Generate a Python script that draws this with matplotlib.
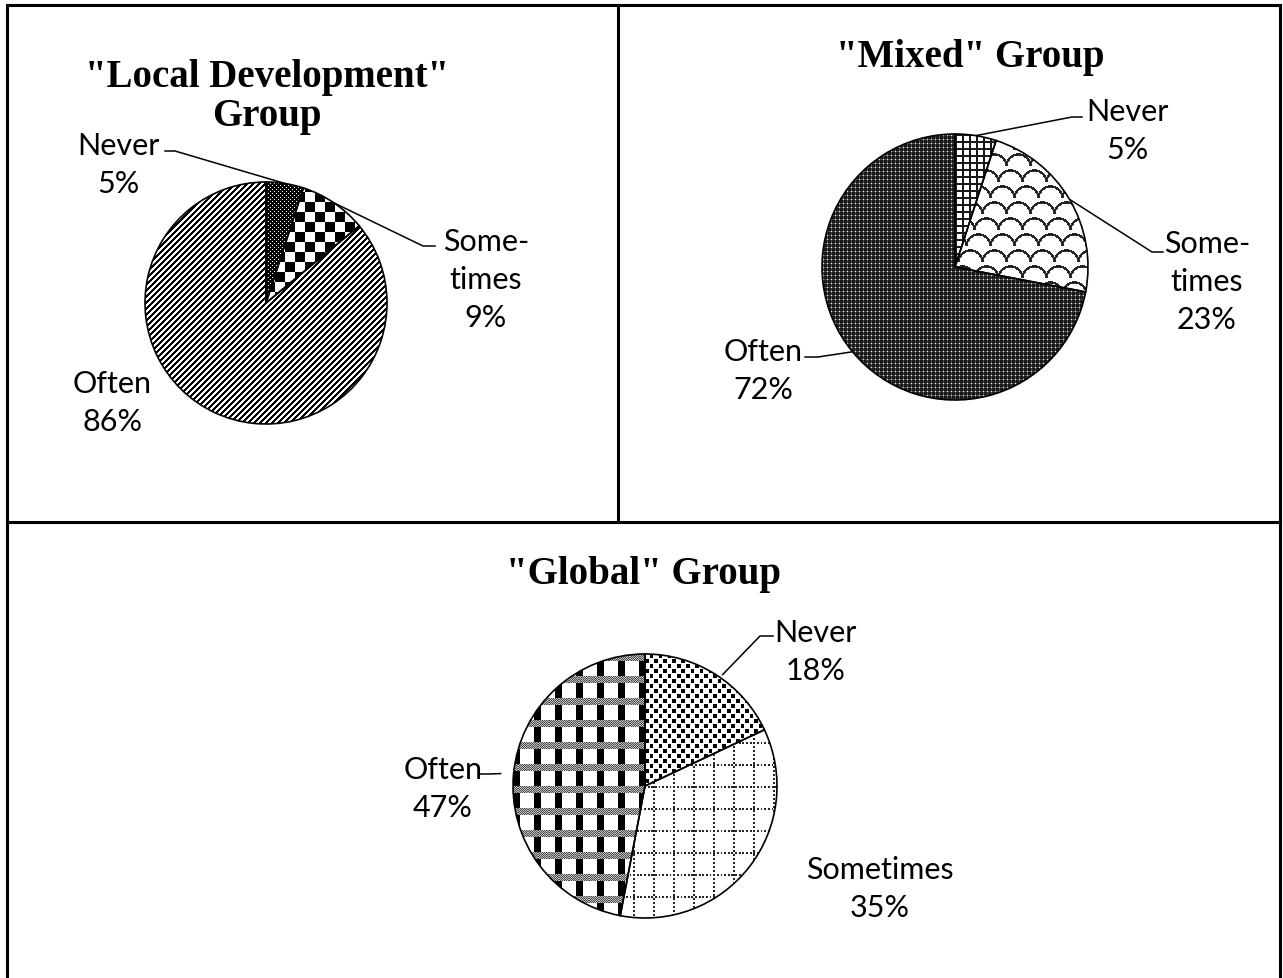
import numpy as np
import matplotlib
matplotlib.use('Agg')
import matplotlib.pyplot as plt

W, H = 1283, 979
DPI = 100

# data
local_names = ['Never', 'Some-\ntimes', 'Often']
local_vals = [5, 9, 86]
mixed_names = ['Never', 'Some-\ntimes', 'Often']
mixed_vals = [5, 23, 72]
global_names = ['Never', 'Sometimes', 'Often']
global_vals = [18, 35, 47]
titles = ['"Local Development"\nGroup', '"Mixed" Group', '"Global" Group']


# fill patterns (0 = black, 1 = white), one pixel per array cell
def pat_dots_black(I, J):
    a = np.zeros(I.shape)
    a[(I % 4 == 1) & (J % 4 == 1)] = 1
    a[(I % 4 == 3) & (J % 4 == 3)] = 1
    return a


def pat_checker(I, J):
    return ((I // 10 + J // 10) % 2).astype(float)


def pat_stripes(I, J):
    return ((I + J) % 6 >= 3).astype(float)


def pat_small_grid(I, J):
    a = np.ones(I.shape)
    a[(I % 7 < 2) | (J % 7 < 2)] = 0.1
    return a


def pat_shingle(I, J):
    h, w = 16, 24
    Jc = J + (I // h) * (w // 3)
    u = I % h
    v = Jc % w
    d = np.sqrt((u - h) ** 2 + (v - w / 2) ** 2)
    a = np.ones(I.shape)
    a[np.abs(d - w / 2) < 1.2] = 0.15
    return a


def pat_dark_dots(I, J):
    a = np.full(I.shape, 0.1)
    a[(I % 4 == 1) & (J % 4 == 1)] = 0.9
    a[((I % 4 == 1) & (J % 4 != 1)) | ((J % 4 == 1) & (I % 4 != 1))] = 0.3
    return a


def pat_diamond_dots(I, J):
    a = np.ones(I.shape)
    a[((I % 10) < 4) & ((J % 10) < 4)] = 0
    a[(((I + 5) % 10) < 4) & (((J + 5) % 10) < 4)] = 0
    return a


def pat_dotted_grid(I, J):
    a = np.ones(I.shape)
    a[(I % 22 < 2) & (J % 4 < 2)] = 0.15
    a[(J % 22 < 2) & (I % 4 < 2)] = 0.15
    return a


def pat_plaid(I, J):
    a = np.ones(I.shape)
    band = (I % 22) < 7
    a[band] = np.where((I[band] + J[band]) % 2 == 0, 0.3, 0.75)
    a[(~band) & ((J % 23) < 8)] = 0
    return a


panels = [
    dict(vals=local_vals, names=local_names, cx=266, cy=304, rx=121, ry=121,
         pats=[pat_dots_black, pat_checker, pat_stripes],
         text_pos=[(118, 165), (486, 280), (112, 403)],
         leaders=[((175, 152), (165, 152)), ((423, 247), (435, 247)), None],
         title_pos=(267, 97)),
    dict(vals=mixed_vals, names=mixed_names, cx=955, cy=268, rx=133, ry=133,
         pats=[pat_small_grid, pat_shingle, pat_dark_dots],
         text_pos=[(1127, 131), (1207, 282), (763, 371)],
         leaders=[((1072, 118), (1082, 118)), ((1152, 253), (1163, 253)),
                  ((818, 358), (805, 358))],
         title_pos=(970, 58)),
    dict(vals=global_vals, names=global_names, cx=645, cy=787, rx=145, ry=132,
         pats=[pat_diamond_dots, pat_dotted_grid, pat_plaid],
         text_pos=[(815, 652), (880, 889), (443, 789)],
         leaders=[((760, 637), (773, 637)), None, ((490, 775), (480, 775))],
         title_pos=(643, 575)),
]

fig = plt.figure(figsize=(W / DPI, H / DPI), dpi=DPI)
bg = fig.add_axes([0, 0, 1, 1])
bg.set_xlim(0, W)
bg.set_ylim(H, 0)
bg.axis('off')

# frame and dividers
frame_kw = dict(color='black', lw=2.2, solid_capstyle='projecting')
bg.plot([7, 1280], [6, 6], **frame_kw)
bg.plot([7, 7], [6, H], **frame_kw)
bg.plot([1280, 1280], [6, H], **frame_kw)
bg.plot([618, 618], [6, 523], **frame_kw)
bg.plot([7, 1280], [523, 523], **frame_kw)

label_font = dict(family='Lato', fontsize=22, ha='center', va='center',
                  linespacing=1.45)

for p in panels:
    cx, cy, rx, ry = p['cx'], p['cy'], p['rx'], p['ry']
    m = 4
    ax = fig.add_axes([(cx - rx - m) / W, (H - cy - ry - m) / H,
                       (2 * rx + 2 * m) / W, (2 * ry + 2 * m) / H])
    wedges, _ = ax.pie(p['vals'], startangle=90, counterclock=False,
                       radius=1, center=(0, 0),
                       wedgeprops=dict(fc='none', ec='black', lw=1.2))
    ax.set_aspect('auto')
    ax.set_xlim(-1 - m / rx, 1 + m / rx)
    ax.set_ylim(-1 - m / ry, 1 + m / ry)
    ax.axis('off')
    I, J = np.mgrid[0:2 * ry, 0:2 * rx]
    for w, pat in zip(wedges, p['pats']):
        w.set_zorder(3)
        im = ax.imshow(pat(I, J), cmap='gray', vmin=0, vmax=1,
                       interpolation='nearest', extent=(-1, 1, -1, 1),
                       zorder=2)
        im.set_clip_path(w)

    for w, name, v, tp, ld in zip(wedges, p['names'], p['vals'],
                                  p['text_pos'], p['leaders']):
        bg.text(tp[0], tp[1], f'{name}\n{v}%', **label_font)
        if ld is None:
            continue
        mid = np.deg2rad((w.theta1 + w.theta2) / 2)
        ex, ey = cx + rx * np.cos(mid), cy - ry * np.sin(mid)
        bg.plot([ex, ld[0][0], ld[1][0]], [ey, ld[0][1], ld[1][1]],
                color='black', lw=1.1)

for p, t in zip(panels, titles):
    bg.text(p['title_pos'][0], p['title_pos'][1], t, family='Liberation Serif',
            fontweight='bold', fontsize=28, ha='center', va='center',
            linespacing=1.05)

fig.savefig('out.png', dpi=DPI)
